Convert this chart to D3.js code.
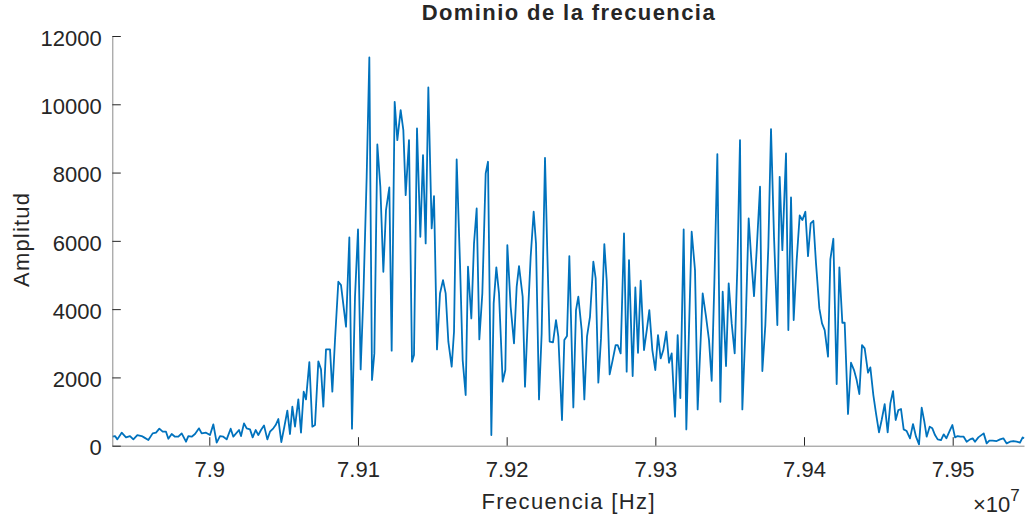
<!DOCTYPE html>
<html><head><meta charset="utf-8">
<script src="https://cdn.jsdelivr.net/npm/d3@7"></script>
<style>
body{margin:0;background:#fff}
svg{display:block}
text{font-family:"Liberation Sans",Arial,Helvetica,sans-serif;fill:#262626}
</style>
</head><body>
<svg id="chart" width="1027" height="518"></svg>
<script>
// Frequency of each sample, in kHz (x axis is in Hz, shown as ×10^7)
const frequencyKHz = [
78934.79,78936.58,78938.15,78941.07,78943.98,78946.67,78948.91,78951.60,78954.52,78956.09,
78959.00,78961.92,78964.16,78966.40,78968.64,78970.88,78972.45,78974.70,78976.94,78979.18,
78981.42,78984.34,78985.91,78988.15,78990.39,78993.08,78994.87,78997.79,79000.48,79002.72,
79004.96,79007.20,79009.45,79011.69,79014.38,79016.17,
79019.98,79021.33,79023.34,79025.14,79027.38,79029.17,79031.19,79032.98,79034.78,79036.80,
79039.04,79040.83,79043.07,79044.64,79046.44,79048.45,79050.47,79052.49,79054.28,79055.85,
79057.65,79059.89,79061.68,79063.48,79065.04,79067.29,79069.30,79071.10,79073.34,79075.13,
79076.70,79078.50,79081.19,79082.76,79084.55,79086.79,79088.59,79091.95,79094.19,79095.98,
79098.00,79100.02,79101.81,79103.61,79105.85,79107.64,79109.44,79111.01,79113.02,79115.04,
79117.06,79118.85,79121.09,79122.66,
79124.68,79126.47,79128.71,79130.51,79132.08,79134.32,79136.34,79137.68,79139.70,79141.94,
79143.74,79145.53,79147.32,79149.57,79151.13,79153.15,79155.17,79157.19,79158.98,79160.78,
79163.02,79164.59,79166.38,79168.62,79170.42,79172.43,79174.00,79176.24,79178.04,79179.83,
79181.63,79183.64,79185.89,79187.45,79189.70,79191.27,79193.06,79194.85,79197.32,79199.11,
79200.46,79202.70,79204.94,79206.74,79208.31,79210.77,79212.34,79214.36,79216.15,79218.17,
79219.74,79221.76,79223.55,
79225.79,79227.36,79228.93,79231.17,79233.19,79234.76,79237.22,79238.79,79240.59,79242.16,
79244.85,79246.64,79248.21,79250.45,79252.25,79254.04,79256.06,79258.30,79259.87,79261.66,
79263.46,79265.70,79267.27,79269.28,79271.30,79273.32,79274.67,79276.68,79278.93,79280.72,
79282.29,79284.75,79286.55,79288.34,79290.14,79292.38,79294.40,79295.96,79297.98,79300.00,
79301.79,79303.59,79305.38,79307.40,79309.19,79310.99,79313.23,79315.02,79316.82,79319.06,
79320.85,79322.64,79324.44,79326.68,79328.47,
79331.84,79334.09,79336.10,79337.90,79339.69,79341.71,79343.73,79345.30,79347.54,79349.33,
79351.35,79353.37,79355.16,79356.95,79358.52,79360.77,79362.78,79364.58,79366.37,79368.16,
79370.41,79371.98,79373.99,79376.01,79377.80,79379.82,79382.06,79383.63,79385.43,79387.89,
79389.46,79391.26,79393.05,79395.07,79397.09,79398.88,79400.90,79402.69,79404.48,79406.28,
79408.07,79410.31,79412.11,79413.90,79416.14,79417.71,79419.73,79421.97,79423.77,79425.78,
79427.35,79429.59,79431.61,79433.63,79435.42,79437.22,
79439.01,79440.80,79443.04,79444.61,79446.63,79448.42,79450.44,79452.24,79454.25,79456.27,
79458.07,79459.86,79461.65,79463.45,79465.24,79467.03,79469.05,79471.29,79473.31,79475.33,
79477.35,79479.14,79480.93,79482.50,79484.52,79486.31,79488.11,79489.90,79492.14,79493.94,
79495.73,79498.20,79499.77,79501.56,79503.35,79505.15,79507.39,79509.41,79511.65,79513.44,
79515.01,79517.25,79520.84,79522.86,79524.65,79526.89,79529.58,79531.83,79534.07,79536.31,
79538.55,79540.80,79543.04,79545.28,79547.07,79548.00
];

// Amplitude of each sample
const amplitude = [
264,283,185,381,244,283,185,312,283,244,
166,361,381,498,410,410,205,342,264,264,
361,117,283,264,342,508,361,381,312,625,
88,283,264,185,498,264,
459,283,654,508,478,244,459,312,459,595,
185,410,508,605,781,107,556,1025,342,1142,
556,1357,381,1581,1357,2450,556,605,2469,2235,
1142,2821,2821,1581,3094,4802,4704,3484,6100,498,
4363,6334,2235,4363,7876,11370,1923,2704,8823,7584,
5095,6900,7564,2782,
10072,8950,9828,9243,7340,8950,2460,2655,9292,6120,
8511,5924,10492,6364,7310,2821,4460,4851,4460,3045,
2313,3338,8384,5339,2508,1484,5241,3728,5924,6949,
3113,4460,7974,8316,312,4168,5222,4460,1874,2216,
5876,4070,2996,4656,5261,4363,1728,3875,5534,6852,
5924,1357,3289,
8433,5632,3045,3026,3680,3192,752,3094,3211,5553,
1122,3972,4363,3387,1357,3192,3777,5388,4900,1845,
3143,5905,4851,2089,2508,2948,2948,2704,6217,2167,
5436,2040,4636,2723,4831,2801,3436,3972,2801,2216,
3240,2557,2801,3338,2430,2704,849,3240,1396,6334,
478,3387,6266,5144,1064,
4460,3777,3094,1903,4753,8540,1288,4509,2333,4753,
3582,2704,5241,8950,1064,3582,6656,5436,4382,5729,
7584,2186,3533,5827,9272,6120,3533,7876,5729,8560,
3387,7271,3680,5436,6744,6608,6852,5553,6510,6588,
5339,4021,3582,3387,2606,5456,6061,1806,5222,3601,
3601,927,2430,2216,1923,1513,
2948,2850,2137,2294,1484,947,390,752,1220,390,
1240,1601,752,1044,1074,478,429,215,634,264,
39,1113,703,264,556,508,312,185,166,332,
215,459,605,244,283,264,264,117,185,215,
117,244,361,68,146,146,137,185,215,68,
117,137,117,88,244,215
];

const xDomainKHz = [78934.76, 79547.96];
const xTickValuesKHz = [79000, 79100, 79200, 79300, 79400, 79500];
const xTickLabels = ["7.9", "7.91", "7.92", "7.93", "7.94", "7.95"];
const yDomain = [0, 12000];
const yTickValues = [0, 2000, 4000, 6000, 8000, 10000, 12000];
const yTickLabels = ["0", "2000", "4000", "6000", "8000", "10000", "12000"];

const titleText = "Dominio de la frecuencia";
const xLabelText = "Frecuencia [Hz]";
const yLabelText = "Amplitud";

const L = 112.3, R = 1024, T = 36, B = 445.7;
const svg = d3.select("#chart");
svg.append("rect").attr("width",1027).attr("height",518).attr("fill","#fff");

const x = d3.scaleLinear().domain(xDomainKHz).range([L, R]);
const y = d3.scaleLinear().domain(yDomain).range([B, T]);

const data = frequencyKHz.map((f, i) => ({f, a: amplitude[i]}));

svg.append("defs").append("clipPath").attr("id","clip")
  .append("rect").attr("x", L).attr("y", T - 5).attr("width", R - L + 2).attr("height", B - T + 5);

svg.append("path")
  .datum(data)
  .attr("clip-path","url(#clip)")
  .attr("fill","none")
  .attr("stroke","#0072BD")
  .attr("stroke-width",1.8)
  .attr("stroke-linejoin","round")
  .attr("d", d3.line().x(d => x(d.f)).y(d => y(d.a)));

const xAxis = d3.axisBottom(x)
  .tickValues(xTickValuesKHz)
  .tickFormat((d, i) => xTickLabels[i])
  .tickSizeInner(-8.5).tickSizeOuter(0).tickPadding(15.4);
const gx = svg.append("g").attr("transform", `translate(0,${B})`).call(xAxis);

const yAxis = d3.axisLeft(y)
  .tickValues(yTickValues)
  .tickFormat((d, i) => yTickLabels[i])
  .tickSizeInner(-8.5).tickSizeOuter(0).tickPadding(10.6);
const gy = svg.append("g").attr("transform", `translate(${L},0)`).call(yAxis);

[gx, gy].forEach(g => {
  g.select(".domain").attr("stroke","#8a8a8a").attr("stroke-width",1);
  g.selectAll(".tick line").attr("stroke","#262626").attr("stroke-width",1);
  g.selectAll(".tick text").attr("fill","#262626")
    .style("font-size","22px")
    .style("font-family",'"Liberation Sans",Arial,sans-serif');
});
gy.selectAll(".tick text").attr("dy","0.42em");

svg.append("text")
  .attr("x", (L + R) / 2).attr("y", 20)
  .attr("text-anchor","middle")
  .attr("textLength", 293).attr("lengthAdjust","spacing")
  .style("font-size","22px").style("font-weight","bold").attr("fill","#000")
  .text(titleText);

svg.append("text")
  .attr("x", 568).attr("y", 509.3)
  .attr("text-anchor","middle")
  .attr("textLength", 173).attr("lengthAdjust","spacing")
  .style("font-size","22px")
  .text(xLabelText);

svg.append("text")
  .attr("transform","translate(29,240) rotate(-90)")
  .attr("text-anchor","middle")
  .attr("textLength", 94).attr("lengthAdjust","spacing")
  .style("font-size","22px")
  .text(yLabelText);

const exp = svg.append("text").attr("x", 973).attr("y", 511.7).style("font-size","22px");
exp.append("tspan").text("\u00D710");
exp.append("tspan").attr("dy", -11).style("font-size","17px").text("7");
</script>
</body></html>
